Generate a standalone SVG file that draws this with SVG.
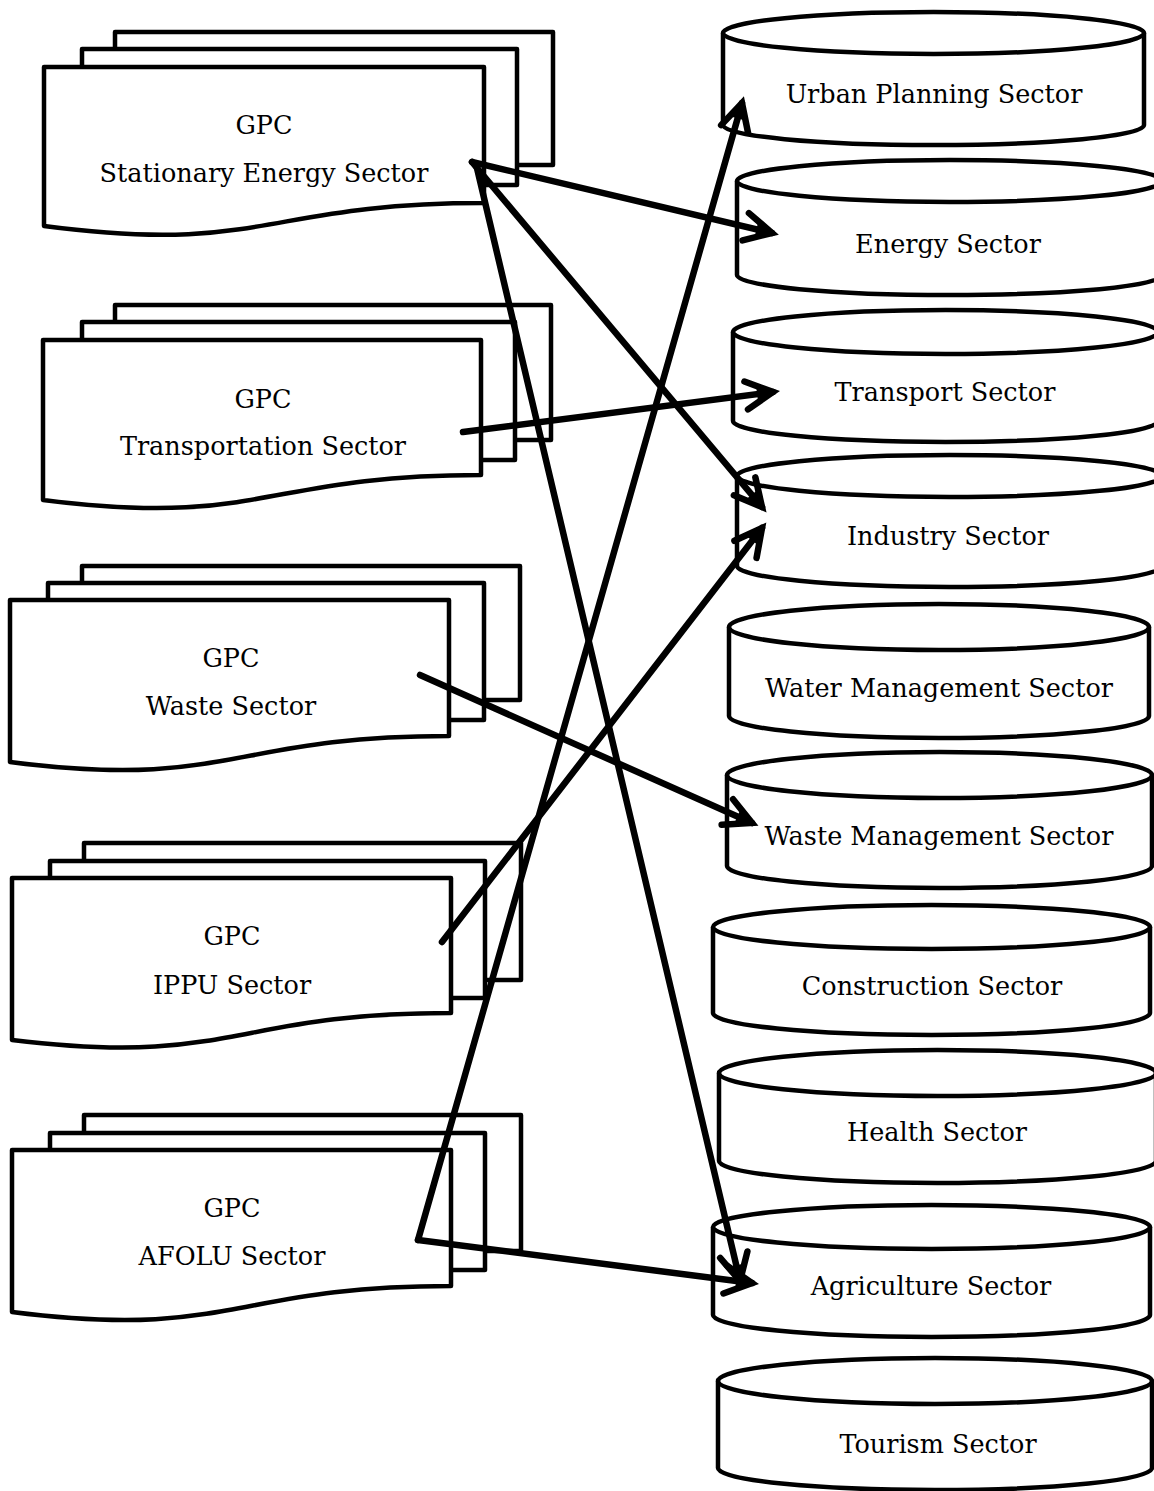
<svg xmlns="http://www.w3.org/2000/svg" width="1154" height="1491" viewBox="0 0 1154 1491">
  <style>
    .sheet { fill: #fff; stroke: #000; stroke-width: 4.5; stroke-linejoin: round; }
    .can { fill: #fff; stroke: #000; stroke-width: 4.5; }
    .lbl { font-family: "DejaVu Serif", "Liberation Serif", serif; font-size: 25.5px; fill: #000; text-anchor: middle; }
    .link { fill: none; stroke: #000; stroke-width: 6.5; stroke-linecap: round; }
  </style>
  <defs>
    <marker id="head" markerUnits="userSpaceOnUse" markerWidth="60" markerHeight="60" viewBox="-40 -30 60 60" refX="0" refY="0" orient="auto">
      <path d="M-27,-14 L0,0 L-27,14" fill="none" stroke="#000" stroke-width="6.5" stroke-linecap="round" stroke-linejoin="miter"/>
      <path d="M-16,-6 L0,0 L-16,6 Z" fill="#000"/>
    </marker>
  </defs>
  <rect width="1154" height="1491" fill="#fff"/>

  <!-- GPC sector document stacks -->
  <g id="gpc-stationary">
    <rect class="sheet" x="115" y="32" width="438" height="133"/>
    <rect class="sheet" x="82" y="49" width="435" height="136"/>
    <path class="sheet" d="M44,67 H484 V203 C264,203 264,255 44,226 Z"/>
    <text class="lbl" x="264" y="134">GPC</text>
    <text class="lbl" x="264" y="182">Stationary Energy Sector</text>
  </g>
  <g id="gpc-transportation">
    <rect class="sheet" x="115" y="305" width="436" height="135"/>
    <rect class="sheet" x="82" y="322" width="433" height="138"/>
    <path class="sheet" d="M43,340 H481 V475 C262,475 262,528 43,500 Z"/>
    <text class="lbl" x="263" y="408">GPC</text>
    <text class="lbl" x="263" y="455">Transportation Sector</text>
  </g>
  <g id="gpc-waste">
    <rect class="sheet" x="82" y="566" width="438" height="134"/>
    <rect class="sheet" x="48" y="583" width="436" height="137"/>
    <path class="sheet" d="M10,600 H449 V736 C230,736 230,790 10,762 Z"/>
    <text class="lbl" x="231" y="667">GPC</text>
    <text class="lbl" x="231" y="715">Waste Sector</text>
  </g>
  <g id="gpc-ippu">
    <rect class="sheet" x="84" y="843" width="437" height="137"/>
    <rect class="sheet" x="50" y="861" width="435" height="137"/>
    <path class="sheet" d="M12,878 H451 V1013 C232,1013 232,1067 12,1040 Z"/>
    <text class="lbl" x="232" y="945">GPC</text>
    <text class="lbl" x="232" y="994">IPPU Sector</text>
  </g>
  <g id="gpc-afolu">
    <rect class="sheet" x="84" y="1115" width="437" height="136"/>
    <rect class="sheet" x="50" y="1133" width="435" height="137"/>
    <path class="sheet" d="M12,1150 H451 V1286 C232,1286 232,1340 12,1312 Z"/>
    <text class="lbl" x="232" y="1217">GPC</text>
    <text class="lbl" x="232" y="1265">AFOLU Sector</text>
  </g>

  <!-- Municipal sector cylinders -->
  <g id="urban-planning">
    <path class="can" d="M723,33 V125 A210.5,20 0 0 0 1144,125 V33"/>
    <ellipse class="can" cx="933.5" cy="33" rx="210.5" ry="21"/>
    <text class="lbl" x="934" y="103">Urban Planning Sector</text>
  </g>
  <g id="energy">
    <path class="can" d="M737,181 V275 A212.5,20 0 0 0 1162,275 V181"/>
    <ellipse class="can" cx="949.5" cy="181" rx="212.5" ry="21"/>
    <text class="lbl" x="948" y="253">Energy Sector</text>
  </g>
  <g id="transport">
    <path class="can" d="M733,332 V421 A212.5,21 0 0 0 1158,421 V332"/>
    <ellipse class="can" cx="945.5" cy="332" rx="212.5" ry="22"/>
    <text class="lbl" x="945" y="401">Transport Sector</text>
  </g>
  <g id="industry">
    <path class="can" d="M737,476 V566 A212.5,21 0 0 0 1162,566 V476"/>
    <ellipse class="can" cx="949.5" cy="476" rx="212.5" ry="21"/>
    <text class="lbl" x="948" y="545">Industry Sector</text>
  </g>
  <g id="water-management">
    <path class="can" d="M729,627 V716 A210,22 0 0 0 1149,716 V627"/>
    <ellipse class="can" cx="939" cy="627" rx="210" ry="23"/>
    <text class="lbl" x="939" y="697">Water Management Sector</text>
  </g>
  <g id="waste-management">
    <path class="can" d="M727,775 V866 A212.5,22 0 0 0 1152,866 V775"/>
    <ellipse class="can" cx="939.5" cy="775" rx="212.5" ry="23"/>
    <text class="lbl" x="939" y="845">Waste Management Sector</text>
  </g>
  <g id="construction">
    <path class="can" d="M713,927 V1013 A218.5,22 0 0 0 1150,1013 V927"/>
    <ellipse class="can" cx="931.5" cy="927" rx="218.5" ry="22"/>
    <text class="lbl" x="932" y="995">Construction Sector</text>
  </g>
  <g id="health">
    <path class="can" d="M719,1073 V1161 A218.5,22 0 0 0 1156,1161 V1073"/>
    <ellipse class="can" cx="937.5" cy="1073" rx="218.5" ry="23"/>
    <text class="lbl" x="937" y="1141">Health Sector</text>
  </g>
  <g id="agriculture">
    <path class="can" d="M713,1227 V1315 A218.5,22 0 0 0 1150,1315 V1227"/>
    <ellipse class="can" cx="931.5" cy="1227" rx="218.5" ry="22"/>
    <text class="lbl" x="931" y="1295">Agriculture Sector</text>
  </g>
  <g id="tourism">
    <path class="can" d="M718,1381 V1468 A217,22 0 0 0 1152,1468 V1381"/>
    <ellipse class="can" cx="935" cy="1381" rx="217" ry="23"/>
    <text class="lbl" x="938" y="1453">Tourism Sector</text>
  </g>

  <!-- Connectors -->
  <g id="connectors">
    <path class="link" d="M472,162 L772,233" marker-end="url(#head)"/>
    <path class="link" d="M472,162 L762,507" marker-end="url(#head)"/>
    <path class="link" d="M476,164 L740,1281" marker-end="url(#head)"/>
    <path class="link" d="M463,432 L773,392" marker-end="url(#head)"/>
    <path class="link" d="M420,675 L752,823" marker-end="url(#head)"/>
    <path class="link" d="M442,942 L762,528" marker-end="url(#head)"/>
    <path class="link" d="M418,1240 L742,103" marker-end="url(#head)"/>
    <path class="link" d="M418,1240 L752,1283" marker-end="url(#head)"/>
  </g>
</svg>
